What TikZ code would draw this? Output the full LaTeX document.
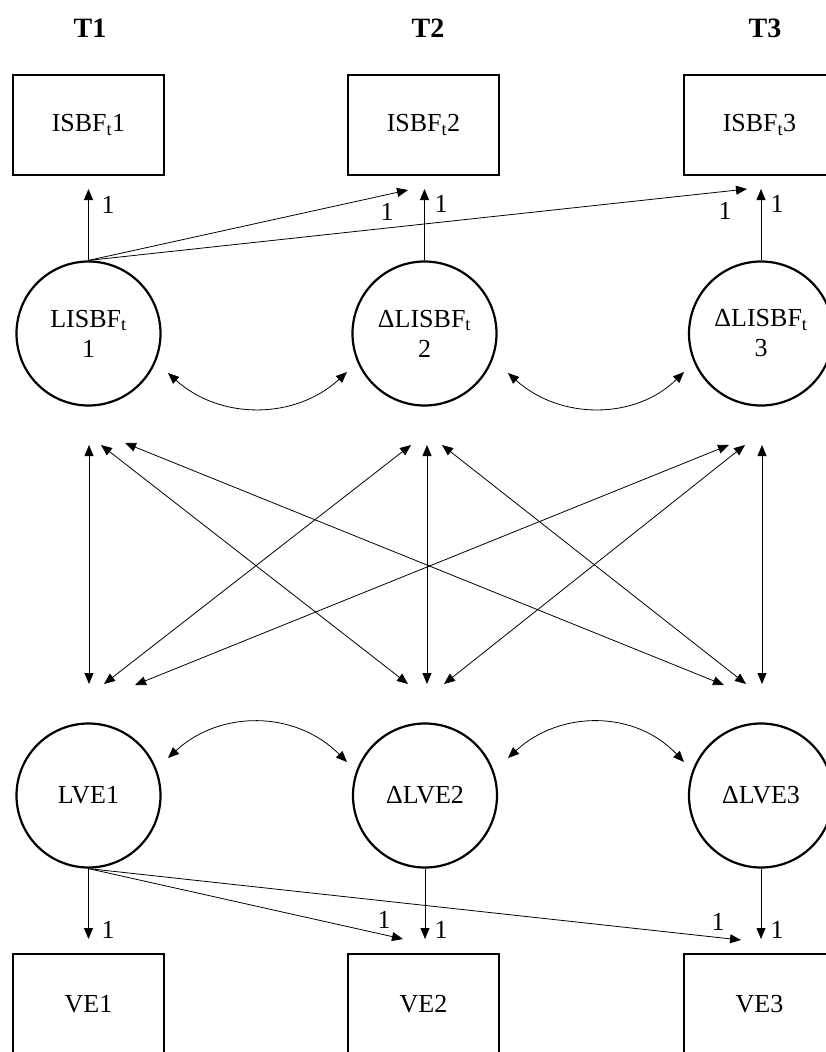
\documentclass[tikz,border=0pt]{standalone}
\usepackage{fontspec}
\setmainfont{Liberation Serif}
\usetikzlibrary{arrows.meta}
\begin{document}
\begin{tikzpicture}[x=1pt,y=-1pt,
  txt/.style={font=\fontsize{26}{30}\selectfont},
  box/.style={txt, draw, line width=2.5pt, minimum width=151pt, minimum height=100pt, inner sep=0pt},
  latent/.style={txt, draw, circle, line width=2.2pt, minimum size=144pt, inner sep=0pt, align=center},
  head/.style={font=\fontsize{28}{30}\selectfont\bfseries, inner sep=0pt},
  lbl/.style={txt, inner sep=0pt},
  tip/.tip={Triangle[length=11pt,width=9pt]},
  arr/.style={-tip, line width=0.8pt},
  dbl/.style={tip-tip, line width=0.8pt}
]
\useasboundingbox (0,0) rectangle (826,1052);
\clip (0,0) rectangle (826,1052);

% headers
\node[head] (t1) at (90,28) {T1};
\node[head] (t2) at (428,28) {T2};
\node[head] (t3) at (765,28) {T3};

% top boxes
\node[box] (x1) at (88.5,125) {ISBF\textsubscript{t}1};
\node[box] (x2) at (423.5,125) {ISBF\textsubscript{t}2};
\node[box] (x3) at (759.5,125) {ISBF\textsubscript{t}3};

% top latent
\node[latent] (l1) at (88.5,333.5) {LISBF\textsubscript{t}\\1};
\node[latent] (l2) at (424.5,333.5) {ΔLISBF\textsubscript{t}\\2};
\node[latent] (l3) at (761,333.5) {ΔLISBF\textsubscript{t}\\3};

% bottom latent
\node[latent] (v1) at (88.5,795.5) {LVE1};
\node[latent] (v2) at (425,795.5) {ΔLVE2};
\node[latent] (v3) at (761,795.5) {ΔLVE3};

% bottom boxes
\node[box] (y1) at (88.5,1004) {VE1};
\node[box] (y2) at (423.5,1004) {VE2};
\node[box] (y3) at (759.5,1004) {VE3};

% top loading end points
\coordinate (e11) at (88.5,189);
\coordinate (e12) at (408,190);
\coordinate (e13) at (747,189);
\coordinate (e22) at (424.5,189);
\coordinate (e33) at (761,189);
\draw[arr] (l1.north) -- (e11);
\draw[arr] (l1.north) -- (e12);
\draw[arr] (l1.north) -- (e13);
\draw[arr] (l2.north) -- (e22);
\draw[arr] (l3.north) -- (e33);
\node[lbl] (n11) at (108,205) {1};
\node[lbl] (n12) at (387,212) {1};
\node[lbl] (n13) at (725,211) {1};
\node[lbl] (n22) at (441,204) {1};
\node[lbl] (n33) at (777,204) {1};

% bottom loading end points
\coordinate (f11) at (88.5,939);
\coordinate (f12) at (403,939);
\coordinate (f13) at (741,940);
\coordinate (f22) at (425,939);
\coordinate (f33) at (761,939);
\draw[arr] (v1.south) -- (f11);
\draw[arr] (v1.south) -- (f12);
\draw[arr] (v1.south) -- (f13);
\draw[arr] (v2.south) -- (f22);
\draw[arr] (v3.south) -- (f33);
\node[lbl] (m11) at (108,930) {1};
\node[lbl] (m12) at (384,920) {1};
\node[lbl] (m13) at (718,922) {1};
\node[lbl] (m22) at (441,930) {1};
\node[lbl] (m33) at (777,930) {1};

% curved covariances top
\coordinate (ca1) at (168,373);
\coordinate (ca2) at (347,372);
\coordinate (ca3) at (508,373);
\coordinate (ca4) at (684,372);
\draw[dbl] (ca1) .. controls (220,420) and (295,420) .. (ca2);
\draw[dbl] (ca3) .. controls (560,420) and (635,420) .. (ca4);

% curved covariances bottom
\coordinate (cb1) at (168,758);
\coordinate (cb2) at (347,762);
\coordinate (cb3) at (508,758);
\coordinate (cb4) at (684,762);
\draw[dbl] (cb1) .. controls (220,710) and (295,710) .. (cb2);
\draw[dbl] (cb3) .. controls (560,710) and (635,710) .. (cb4);

% cross covariances ports
\coordinate (a1v) at (89,445);
\coordinate (a1b) at (101,445);
\coordinate (a1c) at (125,443);
\coordinate (a2a) at (411,445);
\coordinate (a2v) at (427,445);
\coordinate (a2c) at (442,445);
\coordinate (a3a) at (729,445);
\coordinate (a3b) at (745,445);
\coordinate (a3v) at (762,445);
\coordinate (b1v) at (89,684);
\coordinate (b1b) at (104,684);
\coordinate (b1c) at (135,685);
\coordinate (b2a) at (408,684);
\coordinate (b2v) at (427,684);
\coordinate (b2c) at (444,684);
\coordinate (b3a) at (724,685);
\coordinate (b3b) at (746,684);
\coordinate (b3v) at (762,684);

\draw[dbl] (a1v) -- (b1v);
\draw[dbl] (a1b) -- (b2a);
\draw[dbl] (a1c) -- (b3a);
\draw[dbl] (a2a) -- (b1b);
\draw[dbl] (a2v) -- (b2v);
\draw[dbl] (a2c) -- (b3b);
\draw[dbl] (a3a) -- (b1c);
\draw[dbl] (a3b) -- (b2c);
\draw[dbl] (a3v) -- (b3v);
\end{tikzpicture}
\end{document}
